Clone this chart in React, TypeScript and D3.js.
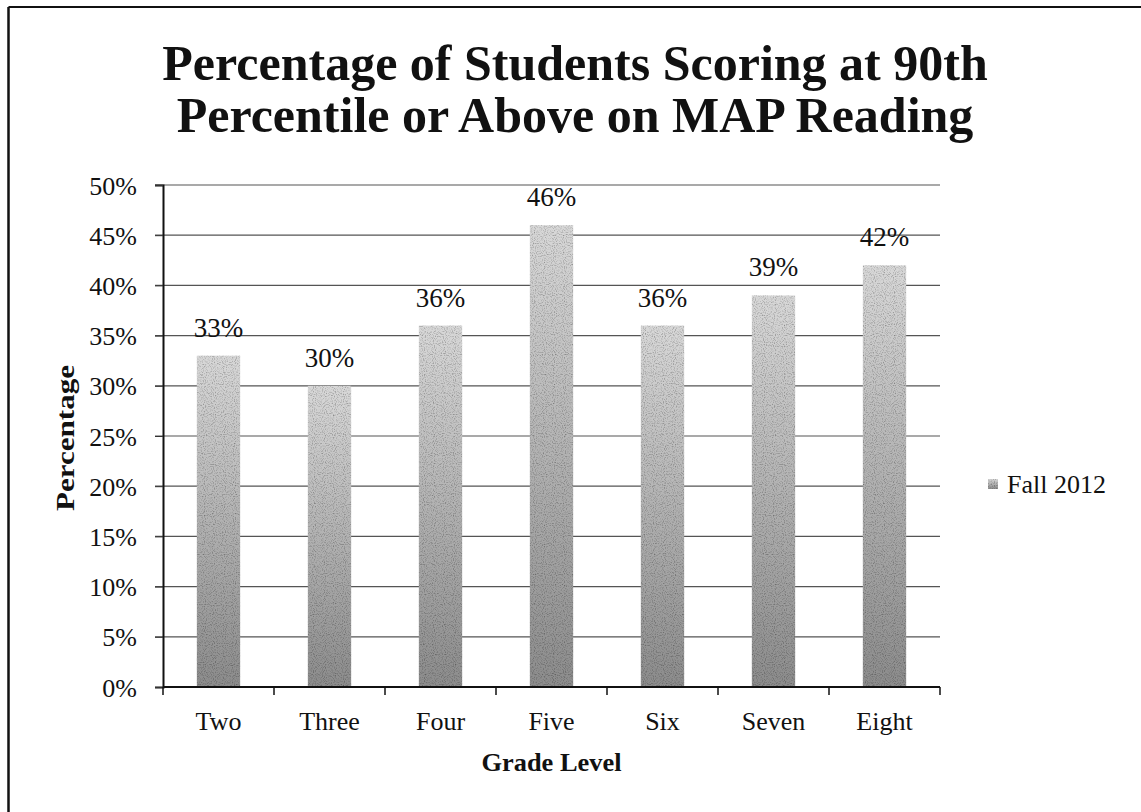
import React, { useEffect, useRef } from 'react'
import * as d3 from 'd3'

const grades = ['Two', 'Three', 'Four', 'Five', 'Six', 'Seven', 'Eight']
const fall2012 = [33, 30, 36, 46, 36, 39, 42]
const yTicks = [0, 5, 10, 15, 20, 25, 30, 35, 40, 45, 50]
const titleLines = ['Percentage of Students Scoring at 90th', 'Percentile or Above on MAP Reading']
const seriesName = 'Fall 2012'

const FONT = '"Liberation Serif", "DejaVu Serif", serif'

export default function App() {
  const svgRef = useRef<SVGSVGElement>(null)

  useEffect(() => {
    if (!svgRef.current) return
    const svg = d3.select(svgRef.current)
    svg.selectAll('*').remove()

    const width = 1141
    const height = 812
    const left = 163
    const right = 940
    const top = 185
    const bottom = 687

    svg.append('rect').attr('width', width).attr('height', height).attr('fill', '#fff')

    // frame (only top and left edges show in the scan)
    svg.append('line').attr('x1', 8.5).attr('x2', width).attr('y1', 7).attr('y2', 7)
      .attr('stroke', '#111').attr('stroke-width', 2)
    svg.append('line').attr('x1', 8.5).attr('x2', 8.5).attr('y1', 7).attr('y2', height)
      .attr('stroke', '#111').attr('stroke-width', 2.5)

    const defs = svg.append('defs')
    const grad = defs.append('linearGradient').attr('id', 'barGrad')
      .attr('x1', 0).attr('y1', 0).attr('x2', 0).attr('y2', 1)
    grad.append('stop').attr('offset', '0%').attr('stop-color', '#d8d8d8')
    grad.append('stop').attr('offset', '100%').attr('stop-color', '#8c8c8c')

    // scanned-print grain on the bars
    const filter = defs.append('filter').attr('id', 'grain')
      .attr('x', 0).attr('y', 0).attr('width', 1).attr('height', 1)
    filter.append('feTurbulence').attr('type', 'fractalNoise').attr('baseFrequency', 0.9)
      .attr('numOctaves', 1).attr('seed', 3).attr('result', 'noise')
    filter.append('feColorMatrix').attr('in', 'noise').attr('type', 'matrix')
      .attr('values', '0 0 0 0 0  0 0 0 0 0  0 0 0 0 0  0 0 0 -1.6 0.85').attr('result', 'dots')
    filter.append('feComposite').attr('in', 'dots').attr('in2', 'SourceGraphic').attr('operator', 'in').attr('result', 'd2')
    const merge = filter.append('feMerge')
    merge.append('feMergeNode').attr('in', 'SourceGraphic')
    merge.append('feMergeNode').attr('in', 'd2')

    const x = d3.scaleBand<string>().domain(grades).range([left, right]).paddingInner(0.61).paddingOuter(0.305)
    const xStep = d3.scaleBand<string>().domain(grades).range([left, right])
    const y = d3.scaleLinear().domain([0, 50]).range([bottom, top])

    // title
    const title = svg.append('text')
      .attr('text-anchor', 'middle')
      .style('font-family', FONT)
      .style('font-weight', 'bold')
      .style('font-size', '50px')
      .attr('fill', '#111')
    titleLines.forEach((t, i) => {
      title.append('tspan').attr('x', 575).attr('y', 80 + i * 52).text(t)
    })

    // gridlines
    svg.append('g').selectAll('line').data(yTicks.filter(d => d > 0)).join('line')
      .attr('x1', left - 8).attr('x2', right)
      .attr('y1', d => y(d)).attr('y2', d => y(d))
      .attr('stroke', '#555').attr('stroke-width', 1.2)

    // y axis
    const yAxis = svg.append('g').attr('transform', `translate(${left},0)`)
      .call(d3.axisLeft(y).tickValues(yTicks).tickSize(8).tickPadding(18).tickFormat(d => `${d}%`))
    yAxis.select('.domain').attr('stroke', '#111').attr('stroke-width', 2)
    yAxis.selectAll('.tick line').attr('stroke', '#333')
    yAxis.selectAll('text')
      .style('font-family', FONT).style('font-size', '26px').attr('fill', '#111').attr('dy', '0.35em')

    // bars
    svg.append('g').selectAll('rect').data(fall2012).join('rect')
      .attr('x', (_, i) => x(grades[i])!)
      .attr('width', x.bandwidth())
      .attr('y', d => y(d))
      .attr('height', d => y(0) - y(d))
      .attr('fill', 'url(#barGrad)')
      .attr('filter', 'url(#grain)')

    // x axis
    svg.append('line').attr('x1', left).attr('x2', right).attr('y1', bottom).attr('y2', bottom)
      .attr('stroke', '#111').attr('stroke-width', 2)
    svg.append('g').selectAll('line').data([...grades.map(g => xStep(g)!), right]).join('line')
      .attr('x1', d => d).attr('x2', d => d).attr('y1', bottom).attr('y2', bottom + 8)
      .attr('stroke', '#111').attr('stroke-width', 1.5)
    svg.append('g').selectAll('text').data(grades).join('text')
      .attr('x', d => x(d)! + x.bandwidth() / 2)
      .attr('y', 730)
      .attr('text-anchor', 'middle')
      .style('font-family', FONT).style('font-size', '26px').attr('fill', '#111')
      .text(d => d)

    // data labels
    svg.append('g').selectAll('text').data(fall2012).join('text')
      .attr('x', (_, i) => x(grades[i])! + x.bandwidth() / 2)
      .attr('y', d => y(d) - 19)
      .attr('text-anchor', 'middle')
      .style('font-family', FONT).style('font-size', '27px').attr('fill', '#111')
      .text(d => `${d}%`)

    // axis titles
    svg.append('text')
      .attr('x', (left + right) / 2).attr('y', 771)
      .attr('text-anchor', 'middle')
      .attr('textLength', 140).attr('lengthAdjust', 'spacingAndGlyphs')
      .style('font-family', FONT).style('font-weight', 'bold').style('font-size', '26px').attr('fill', '#111')
      .text('Grade Level')
    svg.append('text')
      .attr('transform', 'translate(74,438) rotate(-90)')
      .attr('text-anchor', 'middle')
      .attr('textLength', 146).attr('lengthAdjust', 'spacingAndGlyphs')
      .style('font-family', FONT).style('font-weight', 'bold').style('font-size', '26px').attr('fill', '#111')
      .text('Percentage')

    // legend
    svg.append('rect').attr('x', 988).attr('y', 479).attr('width', 10).attr('height', 10)
      .attr('fill', 'url(#barGrad)').attr('filter', 'url(#grain)')
    svg.append('text').attr('x', 1007).attr('y', 493)
      .style('font-family', FONT).style('font-size', '26px').attr('fill', '#111')
      .text(seriesName)
  }, [])

  return (
    <svg
      ref={svgRef}
      width={1141}
      height={812}
      style={{ position: 'absolute', left: 0, top: 0, display: 'block' }}
    />
  )
}
